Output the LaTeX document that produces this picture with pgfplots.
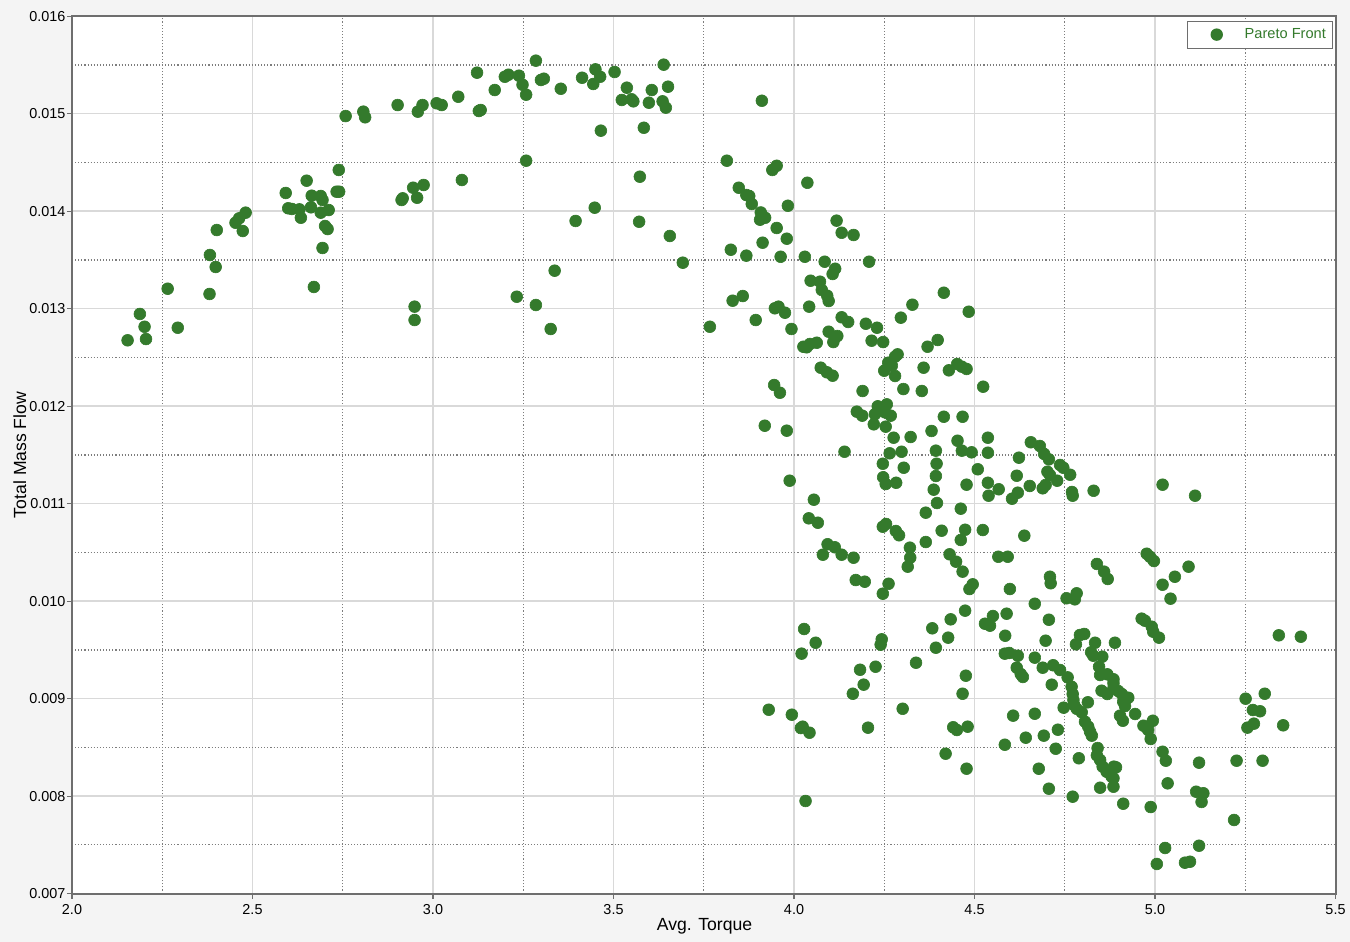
\documentclass[border=0pt]{standalone}
\usepackage{pgfplots}
\pgfplotsset{compat=1.18}
\usepackage{pgfplotstable}
\usepackage{fontspec}
\setmainfont{Liberation Sans}

\definecolor{ptgreen}{RGB}{52,122,44}
\definecolor{bggray}{RGB}{244,244,244}
\definecolor{gridmaj}{RGB}{217,217,217}
\definecolor{gridmin}{RGB}{125,125,125}
\definecolor{spine}{RGB}{110,110,110}

% Pareto front: avg. torque vs. total mass flow
\pgfplotstableread{
x y
2.154 0.012676
2.188 0.012946
2.201 0.012815
2.205 0.012689
2.265 0.013205
2.293 0.012805
2.381 0.013151
2.382 0.013551
2.398 0.013428
2.401 0.013807
2.453 0.013882
2.463 0.013927
2.473 0.013797
2.481 0.013985
2.592 0.014187
2.599 0.014030
2.609 0.014023
2.630 0.014019
2.634 0.013933
2.650 0.014313
2.662 0.014040
2.664 0.014159
2.670 0.013223
2.689 0.014156
2.694 0.014115
2.689 0.013985
2.711 0.014012
2.701 0.013848
2.708 0.013817
2.694 0.013623
2.733 0.014200
2.740 0.014200
2.739 0.014423
2.758 0.014976
2.807 0.015021
2.812 0.014963
2.902 0.015089
2.913 0.014115
2.916 0.014132
2.945 0.014241
2.956 0.014138
2.949 0.013021
2.949 0.012884
2.958 0.015021
2.971 0.015089
2.974 0.014269
3.010 0.015107
3.024 0.015089
3.070 0.015174
3.080 0.014320
3.122 0.015421
3.127 0.015028
3.132 0.015038
3.171 0.015243
3.199 0.015379
3.209 0.015400
3.238 0.015390
3.248 0.015297
3.258 0.015195
3.285 0.015544
3.299 0.015346
3.307 0.015359
3.354 0.015256
3.413 0.015369
3.450 0.015455
3.463 0.015379
3.444 0.015305
3.503 0.015428
3.537 0.015267
3.523 0.015141
3.550 0.015148
3.555 0.015127
3.606 0.015243
3.598 0.015113
3.639 0.015503
3.651 0.015277
3.636 0.015127
3.645 0.015062
3.465 0.014826
3.584 0.014856
3.911 0.015133
3.258 0.014518
3.573 0.014354
3.448 0.014036
3.395 0.013900
3.571 0.013892
3.656 0.013746
3.692 0.013472
3.337 0.013390
3.232 0.013123
3.285 0.013038
3.326 0.012792
3.814 0.014518
3.940 0.014423
3.952 0.014466
3.847 0.014241
3.868 0.014166
3.876 0.014156
3.883 0.014074
3.908 0.013987
3.906 0.013913
3.920 0.013933
3.952 0.013828
3.913 0.013677
3.825 0.013605
3.868 0.013544
3.963 0.013533
3.830 0.013082
3.858 0.013130
3.947 0.013004
3.957 0.013021
3.894 0.012884
3.767 0.012815
4.037 0.014292
3.983 0.014056
3.980 0.013718
4.030 0.013533
4.118 0.013903
4.132 0.013779
4.165 0.013756
4.085 0.013482
4.114 0.013410
4.107 0.013356
4.208 0.013482
4.046 0.013287
4.072 0.013277
4.077 0.013192
4.092 0.013133
4.096 0.013079
4.042 0.013021
3.975 0.012959
3.993 0.012792
4.132 0.012912
4.150 0.012864
4.199 0.012846
4.230 0.012805
4.328 0.013041
4.296 0.012908
4.096 0.012764
4.120 0.012720
4.109 0.012658
4.215 0.012672
4.247 0.012658
4.026 0.012610
4.035 0.012604
4.044 0.012638
4.063 0.012651
4.287 0.012532
4.280 0.012508
4.261 0.012446
4.271 0.012415
4.250 0.012364
4.280 0.012310
4.074 0.012395
4.091 0.012348
4.107 0.012313
3.945 0.012217
3.961 0.012138
4.190 0.012156
4.303 0.012176
4.415 0.013164
4.484 0.012969
4.398 0.012679
4.370 0.012610
4.359 0.012395
4.429 0.012368
4.452 0.012433
4.465 0.012405
4.478 0.012382
4.524 0.012200
4.354 0.012156
4.174 0.011944
4.189 0.011903
4.232 0.011999
4.257 0.012019
4.224 0.011917
4.252 0.011937
4.268 0.011903
4.221 0.011814
4.254 0.011790
4.276 0.011677
4.323 0.011684
3.919 0.011800
3.980 0.011749
4.140 0.011533
4.265 0.011517
4.298 0.011533
4.246 0.011410
4.304 0.011369
4.247 0.011271
4.254 0.011202
4.283 0.011215
3.988 0.011236
4.055 0.011041
4.041 0.010850
4.066 0.010805
4.093 0.010584
4.113 0.010553
4.080 0.010477
4.132 0.010477
4.165 0.010446
4.246 0.010764
4.255 0.010792
4.282 0.010720
4.291 0.010676
4.321 0.010549
4.322 0.010446
4.315 0.010354
4.171 0.010217
4.196 0.010200
4.262 0.010179
4.246 0.010077
4.028 0.009715
4.415 0.011892
4.467 0.011892
4.381 0.011746
4.453 0.011646
4.537 0.011677
4.393 0.011544
4.465 0.011544
4.492 0.011527
4.537 0.011523
4.395 0.011410
4.393 0.011284
4.509 0.011353
4.478 0.011195
4.537 0.011215
4.539 0.011082
4.567 0.011148
4.387 0.011144
4.396 0.011007
4.623 0.011472
4.617 0.011287
4.656 0.011630
4.681 0.011592
4.693 0.011510
4.706 0.011455
4.737 0.011397
4.746 0.011369
4.765 0.011297
4.702 0.011328
4.709 0.011294
4.729 0.011236
4.697 0.011192
4.689 0.011158
4.653 0.011182
4.620 0.011113
4.604 0.011051
4.770 0.011120
4.772 0.011082
4.830 0.011133
4.365 0.010908
4.462 0.010949
4.409 0.010723
4.474 0.010733
4.523 0.010730
4.462 0.010628
4.365 0.010607
4.638 0.010672
4.431 0.010481
4.449 0.010405
4.467 0.010303
4.566 0.010456
4.592 0.010456
4.495 0.010173
4.486 0.010125
4.598 0.010125
4.709 0.010251
4.711 0.010184
4.839 0.010382
4.859 0.010303
4.869 0.010228
4.755 0.010030
4.783 0.010081
4.778 0.010019
4.667 0.009974
4.474 0.009903
4.434 0.009814
4.551 0.009848
4.529 0.009769
4.543 0.009749
4.589 0.009872
4.706 0.009810
4.383 0.009722
5.021 0.011195
5.111 0.011082
4.977 0.010487
4.986 0.010456
4.997 0.010412
5.093 0.010354
5.055 0.010251
5.021 0.010169
5.043 0.010026
4.963 0.009821
4.972 0.009800
4.991 0.009738
4.060 0.009574
4.021 0.009462
4.243 0.009609
4.240 0.009554
4.338 0.009369
4.183 0.009297
4.226 0.009328
4.193 0.009144
4.163 0.009051
4.301 0.008897
3.930 0.008887
3.994 0.008836
4.019 0.008699
4.024 0.008713
4.043 0.008651
4.205 0.008703
4.032 0.007951
4.427 0.009626
4.393 0.009523
4.476 0.009236
4.467 0.009051
4.585 0.009646
4.697 0.009595
4.584 0.009462
4.596 0.009469
4.620 0.009441
4.667 0.009421
4.617 0.009318
4.628 0.009253
4.634 0.009223
4.689 0.009318
4.718 0.009343
4.737 0.009294
4.714 0.009144
4.758 0.009219
4.769 0.009123
4.772 0.009048
4.774 0.008987
4.776 0.008935
4.783 0.008897
4.797 0.008861
4.806 0.008764
4.815 0.008713
4.820 0.008662
4.825 0.008621
4.747 0.008908
4.814 0.008963
4.792 0.009653
4.804 0.009664
4.781 0.009558
4.834 0.009574
4.823 0.009476
4.829 0.009441
4.854 0.009431
4.845 0.009328
4.848 0.009243
4.868 0.009250
4.852 0.009082
4.868 0.009048
4.885 0.009158
4.889 0.009574
4.607 0.008826
4.667 0.008846
4.731 0.008682
4.441 0.008707
4.451 0.008679
4.481 0.008713
4.642 0.008600
4.692 0.008621
4.584 0.008528
4.725 0.008487
4.420 0.008436
4.478 0.008282
4.678 0.008282
4.706 0.008077
4.772 0.007995
4.789 0.008389
4.841 0.008494
4.839 0.008419
4.848 0.008371
4.855 0.008303
4.866 0.008251
4.880 0.008200
4.886 0.008303
4.885 0.008097
4.848 0.008087
4.995 0.009687
5.011 0.009626
5.343 0.009650
5.404 0.009636
4.885 0.009199
4.885 0.009107
4.898 0.009079
4.908 0.009048
4.926 0.009010
4.912 0.008969
4.917 0.008925
4.945 0.008843
4.903 0.008826
4.911 0.008774
4.968 0.008723
4.981 0.008679
4.988 0.008587
4.994 0.008774
5.021 0.008456
5.030 0.008364
4.875 0.008235
4.885 0.008184
4.892 0.008296
4.912 0.007923
4.988 0.007889
5.035 0.008132
5.122 0.008344
5.114 0.008046
5.134 0.008030
5.129 0.007941
5.226 0.008364
5.298 0.008364
5.219 0.007756
5.028 0.007469
5.005 0.007305
5.083 0.007318
5.097 0.007328
5.122 0.007492
5.251 0.009000
5.304 0.009051
5.271 0.008884
5.291 0.008871
5.256 0.008703
5.274 0.008744
5.355 0.008727
}\paretodata

\begin{document}
\begin{tikzpicture}
\fill[bggray] (0,0) rectangle (675pt,471pt);
\begin{axis}[
    at={(36pt,24.15pt)}, anchor=south west,
    scale only axis, width=631.75pt, height=438.75pt,
    xmin=2.0, xmax=5.5, ymin=0.007, ymax=0.016,
    xtick={2.0,2.5,3.0,3.5,4.0,4.5,5.0,5.5},
    ytick={0.007,0.008,0.009,0.010,0.011,0.012,0.013,0.014,0.015,0.016},
    minor x tick num=1, minor y tick num=1,
    scaled y ticks=false,
    /pgf/number format/assume math mode=true,
    xticklabel style={/pgf/number format/fixed, /pgf/number format/fixed zerofill,
        /pgf/number format/precision=1},
    yticklabel style={/pgf/number format/fixed, /pgf/number format/fixed zerofill,
        /pgf/number format/precision=3},
    tick label style={font=\fontsize{7.2}{8}\selectfont},
    every x tick label/.append style={anchor=north, inner sep=0pt, yshift=-2.5pt},
    every y tick label/.append style={anchor=east, inner sep=0pt, xshift=-0.6pt},
    tick pos=left, tick align=outside,
    major tick length=2.5pt, minor tick length=0pt,
    tick style={spine, line width=0.6pt},
    axis line style={spine, line width=1pt},
    axis background/.style={fill=white},
    grid=both,
    major grid style={gridmaj, line width=0.75pt},
    minor grid style={gridmin, line width=0.55pt, dash pattern=on 0.55pt off 1pt},
    xlabel={Avg. Torque}, ylabel={Total Mass Flow},
    every axis x label/.style={at={(axis description cs:0.5006,-0.0368)}, anchor=center,
        font=\fontsize{8.8}{10}\selectfont},
    every axis y label/.style={at={(axis description cs:-0.0412,0.5)}, rotate=90, anchor=center,
        font=\fontsize{8.8}{10}\selectfont},
    legend style={at={(axis description cs:0.998,0.995)}, anchor=north east,
        draw=spine, line width=0.5pt, fill=white,
        font=\fontsize{7.3}{8.5}\selectfont, text=ptgreen,
        inner xsep=1.3pt, inner ysep=1.5pt},
    legend image code/.code={
        \path[draw=none] (0pt,0pt) -- (25.2pt,0pt);
        \fill[ptgreen, draw=none] (13.2pt,0pt) circle (3.1pt);
    },
]
\addplot[only marks, mark=*, color=ptgreen, mark size=2.95pt,
    mark options={fill=ptgreen, draw=ptgreen, line width=0.3pt}] table {\paretodata};
\addlegendentry{Pareto Front}
\end{axis}
\end{tikzpicture}
\end{document}
